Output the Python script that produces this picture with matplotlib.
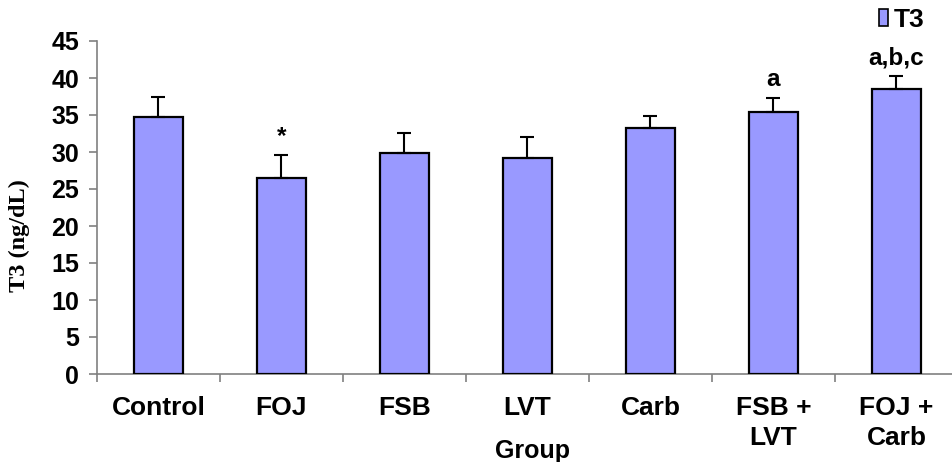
import numpy as np
import matplotlib
matplotlib.use("Agg")
import matplotlib.pyplot as plt
from matplotlib.patches import Patch

# data
groups = ["Control", "FOJ", "FSB", "LVT", "Carb", "FSB +\nLVT", "FOJ +\nCarb"]
t3_mean = [34.7, 26.5, 29.9, 29.2, 33.2, 35.4, 38.5]
t3_err = [2.7, 3.1, 2.7, 2.8, 1.7, 1.9, 1.8]
marks = ["", "*", "", "", "", "a", "a,b,c"]

plt.rcParams["font.family"] = ["Liberation Sans", "DejaVu Sans"]
plt.rcParams["font.weight"] = "bold"

fig = plt.figure(figsize=(9.53, 4.62), dpi=100)
ax = fig.add_axes([97 / 953, 88 / 462, 861 / 953, 333 / 462])

x = np.arange(len(groups))
bar_col = "#9999ff"
ax.bar(x, t3_mean, width=0.4, color=bar_col, edgecolor="black", linewidth=1.6, zorder=3)
ax.errorbar(x, t3_mean, yerr=[np.zeros(len(x)), t3_err], fmt="none",
            ecolor="black", elinewidth=1.5, capsize=5, capthick=1.5, zorder=4)

for xi, m, e, lab in zip(x, t3_mean, t3_err, marks):
    if lab:
        ax.text(xi, m + e + 0.9, lab, ha="center", va="bottom", fontsize=17.5, fontweight="bold")

ax.set_xlim(-0.5, len(groups) - 0.5)
ax.set_ylim(0, 45)
ax.set_yticks(np.arange(0, 46, 5))
ax.set_xticks(x)
ax.set_xticklabels(groups, fontsize=19, fontweight="bold", linespacing=1.3)
ax.set_xticks(np.arange(-0.5, len(groups), 1.0), minor=True)
ax.tick_params(axis="x", which="major", length=0, pad=16)
ax.tick_params(axis="x", which="minor", length=6, color="#808080", width=1.2)
ax.tick_params(axis="y", length=6, color="#808080", width=1.2, labelsize=18, pad=7)
for t in ax.get_yticklabels():
    t.set_fontweight("bold")

for s in ["top", "right"]:
    ax.spines[s].set_visible(False)
for s in ["left", "bottom"]:
    ax.spines[s].set_color("#808080")
    ax.spines[s].set_linewidth(1.2)

ax.set_ylabel("T3 (ng/dL)", fontsize=17.5, fontweight="bold", family="Liberation Serif")
ax.yaxis.set_label_coords(-0.078, 0.417)
# x title sits right at the bottom edge, as in the reference
fig.text(533 / 953, 4 / 462, "Group", ha="center", va="baseline", fontsize=18, fontweight="bold")

leg = fig.legend(handles=[Patch(facecolor=bar_col, edgecolor="black", linewidth=1.2, label="T3")],
                 loc="upper right", bbox_to_anchor=(0.995, 1.035), frameon=False,
                 prop={"size": 19, "weight": "bold"}, handlelength=0.35, handleheight=0.65,
                 handletextpad=0.2)

fig.savefig("out.png", dpi=100)
